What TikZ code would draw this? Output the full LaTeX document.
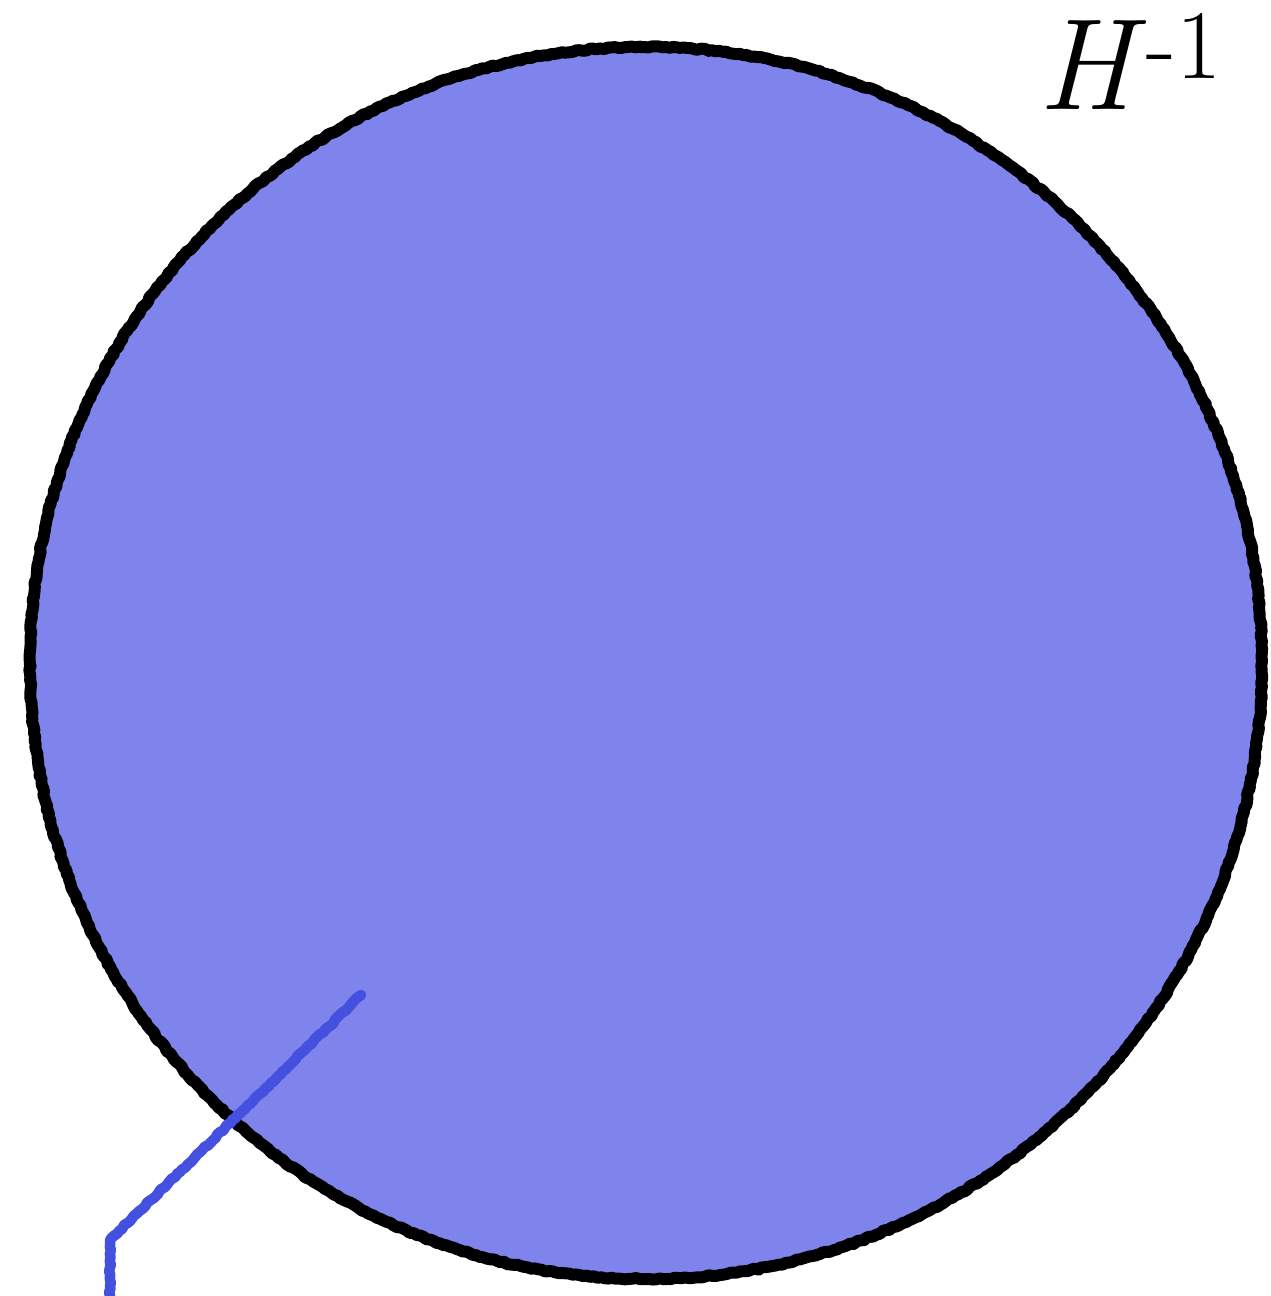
\documentclass[tikz,border=0pt]{standalone}
\usepackage{tikz}
\usepackage{xcolor}
\usetikzlibrary{positioning, calc, decorations.pathmorphing}
\definecolor{DiscFill}{HTML}{7F84EC}
\definecolor{PathInk}{HTML}{4450E0}

\begin{document}
\begin{tikzpicture}[
    x=1cm, y=1cm,
    rough/.style={
      decorate,
      decoration={random steps, segment length=1pt, amplitude=0.25pt},
    },
    disc/.style={
      circle,
      inner sep=0pt,
      minimum size=12.32cm,
      fill=DiscFill,
    },
    discrim/.style={
      rough,
      draw=black,
      line width=3.4pt,
      line join=round,
    },
    walk/.style={
      rough,
      draw=PathInk,
      line width=3pt,
      line join=round,
      line cap=round,
    },
  ]
    \useasboundingbox (0,0) rectangle (12.70,12.96);
    % the ball
    \node[disc] (ball) at (6.46,6.33) {};
    \draw[discrim] (ball.center) circle[radius=6.16cm];
    % label
    \node[
      anchor=base west,
      inner sep=0pt,
      font=\fontsize{37}{40}\selectfont,
    ] (lbl) at (10.38,11.86) {\textit{H}\raisebox{9pt}{\fontsize{28}{30}\selectfont -1}};
    % the path leaving the ball
    \coordinate (start) at (3.61,3.01);
    \coordinate (bend) at (1.10,0.56);
    \coordinate (exit) at (1.10,0.00);
    \draw[walk] (start) -- (bend) -- (exit);
\end{tikzpicture}
\end{document}
